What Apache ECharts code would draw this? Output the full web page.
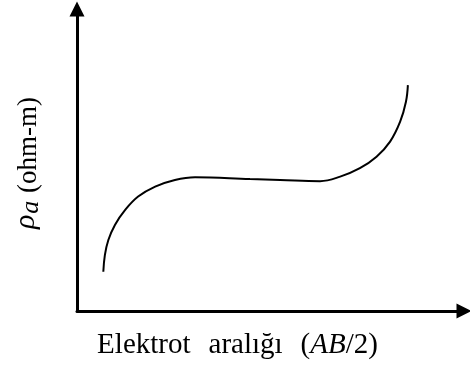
<!DOCTYPE html>
<html>
<head>
<meta charset="utf-8">
<script src="https://cdn.jsdelivr.net/npm/echarts@6/dist/echarts.min.js"></script>
<style>
  html, body { margin: 0; padding: 0; background: #fff; }
  #chart { width: 470px; height: 367px; }
</style>
</head>
<body>
<div id="chart"></div>
<script>
// Electrode spacing (AB/2), relative units
const spacing = [6.8, 7.2, 8.1, 9.8, 12.4, 15.8, 20.2, 25.3, 30.5, 44.7, 52.5, 62.8, 68.0, 73.1, 77.4, 80.9, 83.5, 85.0, 85.5];
// Apparent resistivity, relative units
const resistivity = [13.0, 18.5, 23.5, 28.5, 33.4, 37.9, 41.2, 43.4, 44.3, 43.7, 43.4, 43.0, 44.5, 47.3, 51.1, 56.1, 62.7, 69.3, 74.8];

const xTitle = '{n|Elektrot}{gap| }{n|aralığı}{gap| }{n|(}{it|AB}{n|/2)}';
const yTitle = '{rho|ρ}{sub|a}{n| (ohm-m)}';

const serif = '"Liberation Serif", "Times New Roman", serif';

const chart = echarts.init(document.getElementById('chart'));

const axisCommon = {
  type: 'value',
  min: 0,
  max: 100,
  axisLine: {
    show: true,
    lineStyle: { color: '#000', width: 3 },
    symbol: ['none', 'triangle'],
    symbolSize: [15, 15]
  },
  axisTick: { show: false },
  axisLabel: { show: false },
  splitLine: { show: false }
};

chart.setOption({
  animation: false,
  backgroundColor: '#fff',
  grid: { left: 77, right: 6, top: 9, bottom: 56 },
  xAxis: Object.assign({}, axisCommon, {
    name: xTitle,
    nameLocation: 'middle',
    nameGap: 20,
    nameTextStyle: {
      fontFamily: serif,
      fontSize: 29,
      color: '#000',
      padding: [0, 66, 0, 0],
      rich: {
        n: { fontFamily: serif, fontSize: 29, color: '#000' },
        it: { fontFamily: serif, fontSize: 29, fontStyle: 'italic', color: '#000' },
        gap: { fontFamily: serif, fontSize: 29, width: 18 }
      }
    }
  }),
  yAxis: Object.assign({}, axisCommon, {
    name: yTitle,
    nameLocation: 'middle',
    nameRotate: 90,
    nameGap: 30,
    nameTextStyle: {
      fontFamily: serif,
      fontSize: 27,
      color: '#000',
      padding: [0, 6, 0, 0],
      rich: {
        n: { fontFamily: serif, fontSize: 27, color: '#000' },
        rho: { fontFamily: serif, fontSize: 30, fontStyle: 'italic', color: '#000', padding: [0, 1, 6, 0] },
        sub: { fontFamily: serif, fontSize: 26, fontStyle: 'italic', color: '#000', padding: [5, 1, 0, 0] }
      }
    }
  }),
  series: [{
    type: 'line',
    data: spacing.map((x, i) => [x, resistivity[i]]),
    smooth: 0.4,
    showSymbol: false,
    lineStyle: { color: '#000', width: 2 }
  }]
});
</script>
</body>
</html>
